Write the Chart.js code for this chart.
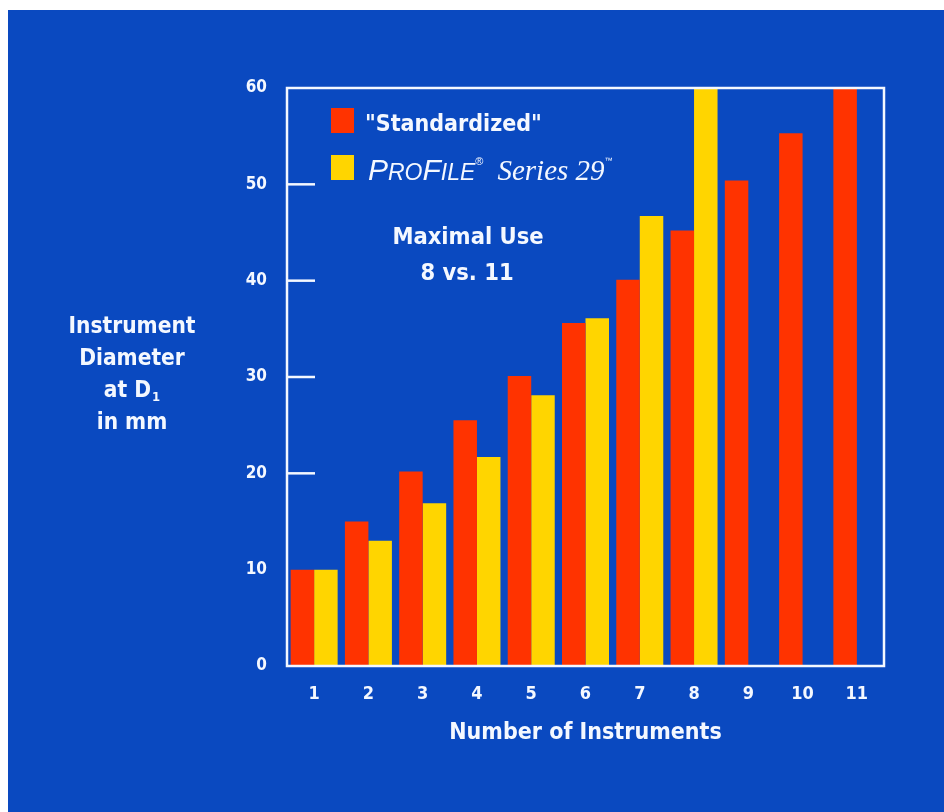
<!DOCTYPE html>
<html>
<head>
<meta charset="utf-8">
<script src="https://cdn.jsdelivr.net/npm/chart.js@4.4.0/dist/chart.umd.min.js"></script>
<style>
  html, body { margin: 0; padding: 0; background: #fff; }
  #wrap { position: relative; width: 944px; height: 812px; }
</style>
</head>
<body>
<div id="wrap"><canvas id="chart" width="944" height="812"></canvas></div>
<script>
// data
const instruments = ['1', '2', '3', '4', '5', '6', '7', '8', '9', '10', '11'];
const standardized = [10, 15, 20.2, 25.5, 30.1, 35.6, 40.1, 45.2, 50.4, 55.3, 60];
const profile29 = [10, 13, 16.9, 21.7, 28.1, 36.1, 46.7, 60, null, null, null];
const yAxisLines = ['Instrument', 'Diameter', 'at D', 'in mm'];
const noteLines = ['Maximal Use', '8 vs. 11'];

const BLUE = '#0A49C0';
const RED = '#FF3300';
const YELLOW = '#FFD500';
const WHITE = '#F4F8FF';
const FONT = "'DejaVu Sans Condensed', 'Liberation Sans', sans-serif";

// background, inner ticks, frame
const framePlugin = {
    id: 'frame',
    beforeDraw(chart) {
        const ctx = chart.ctx;
        ctx.save();
        ctx.fillStyle = '#fff';
        ctx.fillRect(0, 0, chart.width, chart.height);
        ctx.fillStyle = BLUE;
        ctx.fillRect(8, 10, chart.width - 8, chart.height - 10);
        ctx.restore();
    },
    beforeDatasetsDraw(chart) {
        const { ctx, chartArea: a, scales: { y } } = chart;
        ctx.save();
        ctx.strokeStyle = WHITE;
        ctx.lineWidth = 2.5;
        y.ticks.forEach(t => {
            // first bar hides the tick at its own height
            if (t.value <= standardized[0] || t.value >= 60) return;
            const py = y.getPixelForValue(t.value);
            ctx.beginPath();
            ctx.moveTo(a.left, py);
            ctx.lineTo(a.left + 28, py);
            ctx.stroke();
        });
        ctx.restore();
    },
    afterDatasetsDraw(chart) {
        const { ctx, chartArea: a } = chart;
        ctx.save();
        ctx.strokeStyle = WHITE;
        ctx.lineWidth = 2.5;
        ctx.strokeRect(a.left, a.top, a.right - a.left, a.bottom - a.top);
        ctx.restore();
    }
};

// legend, notes and the y axis caption
const textPlugin = {
    id: 'texts',
    afterDraw(chart) {
        const ctx = chart.ctx;
        const ds = chart.data.datasets;
        ctx.save();

        // legend boxes
        ctx.fillStyle = ds[0].backgroundColor;
        ctx.fillRect(331, 108, 23, 25);
        ctx.fillStyle = ds[1].backgroundColor;
        ctx.fillRect(331, 155, 23, 25);

        ctx.fillStyle = WHITE;
        ctx.textBaseline = 'alphabetic';
        ctx.textAlign = 'left';
        ctx.font = 'bold 23px ' + FONT;
        ctx.fillText(ds[0].label, 365, 131);

        // ProFile® Series 29™
        let x = 368;
        const base = 180;
        const put = (txt, font, dy = 0) => {
            ctx.font = font;
            ctx.fillText(txt, x, base + dy);
            x += ctx.measureText(txt).width;
        };
        put('P', "italic 30px 'Liberation Sans'");
        put('RO', "italic 23px 'Liberation Sans'");
        put('F', "italic 30px 'Liberation Sans'");
        put('ILE', "italic 23px 'Liberation Sans'");
        put('\u00AE', "11px 'Liberation Sans'", -15);
        x += 14;
        put('Series 29', "italic 29px 'Liberation Serif'");
        put('\u2122', "8px 'Liberation Sans'", -17);

        // note
        ctx.textAlign = 'center';
        ctx.textBaseline = 'middle';
        ctx.font = 'bold 23.5px ' + FONT;
        ctx.fillText(noteLines[0], 468, 238);
        ctx.fillText(noteLines[1], 467, 274);

        // y caption
        const cx = 132;
        const ys = [327, 359, 391, 423];
        yAxisLines.forEach((line, i) => {
            ctx.font = 'bold 22.5px ' + FONT;
            if (i === 2) {
                const w = ctx.measureText(line).width;
                ctx.font = 'bold 13px ' + FONT;
                const ws = ctx.measureText('1').width;
                const left = cx - (w + ws + 1) / 2;
                ctx.textAlign = 'left';
                ctx.font = 'bold 22.5px ' + FONT;
                ctx.fillText(line, left, ys[i]);
                ctx.font = 'bold 13px ' + FONT;
                ctx.fillText('1', left + w + 1, ys[i] + 7);
                ctx.textAlign = 'center';
            } else {
                ctx.fillText(line, cx, ys[i]);
            }
        });
        ctx.restore();
    }
};

new Chart(document.getElementById('chart'), {
    type: 'bar',
    data: {
        labels: instruments,
        datasets: [
            { label: '"Standardized"', data: standardized, backgroundColor: RED },
            { label: 'ProFile® Series 29™', data: profile29, backgroundColor: YELLOW }
        ]
    },
    options: {
        responsive: false,
        animation: false,
        categoryPercentage: 0.866,
        barPercentage: 1.0,
        layout: { padding: { left: 227, right: 60, top: 88, bottom: 0 } },
        plugins: {
            legend: { display: false },
            tooltip: { enabled: false }
        },
        scales: {
            x: {
                grid: { display: false },
                border: { display: false },
                ticks: { color: WHITE, padding: 10, font: { family: FONT, size: 18, weight: 'bold' } },
                title: {
                    display: true,
                    text: 'Number of Instruments',
                    color: WHITE,
                    font: { family: FONT, size: 23, weight: 'bold' },
                    padding: { top: 0, bottom: 65 }
                },
                afterFit: s => { s.height = 146; }
            },
            y: {
                min: 0,
                max: 60,
                grid: { display: false },
                border: { display: false },
                ticks: { stepSize: 10, color: WHITE, padding: 12, font: { family: FONT, size: 17, weight: 'bold' } },
                afterFit: s => { s.width = 60; }
            }
        }
    },
    plugins: [framePlugin, textPlugin]
});
</script>
</body>
</html>
